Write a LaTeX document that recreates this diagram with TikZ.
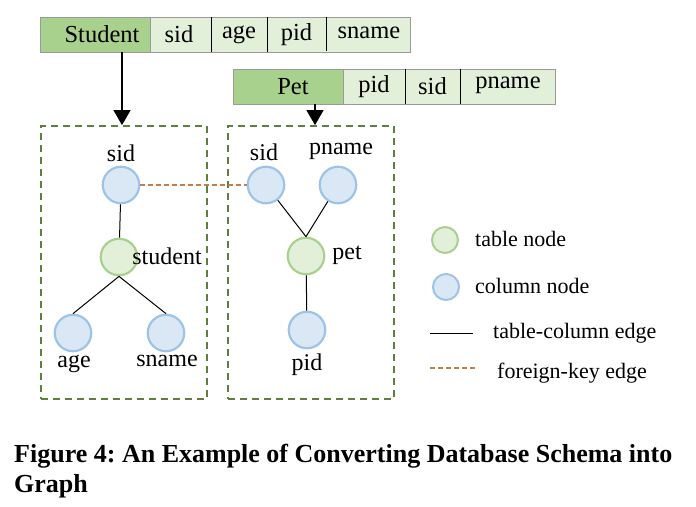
\documentclass[tikz,border=0pt]{standalone}
\usepackage{fontspec}
\setmainfont{Liberation Serif}
\usetikzlibrary{arrows.meta}
\definecolor{dkgreen}{HTML}{A9D18E}
\definecolor{ltgreen}{HTML}{E2EFD9}
\definecolor{cellborder}{HTML}{9A9A9A}
\definecolor{colfill}{HTML}{DAE8F5}
\definecolor{colborder}{HTML}{9DC3E6}
\definecolor{tabborder}{HTML}{A9D18E}
\definecolor{boxgreen}{HTML}{5E7F3E}
\definecolor{fkorange}{HTML}{C0804A}
\tikzset{
  hdr/.style={font=\fontsize{24.5}{28}\selectfont, inner sep=0pt},
  txt/.style={font=\fontsize{24}{28}\selectfont, inner sep=0pt},
  lgtxt/.style={font=\fontsize{22}{26}\selectfont, inner sep=0pt, anchor=west},
  cellA/.style={draw=cellborder, fill=dkgreen, line width=0.6pt},
  cellB/.style={draw=cellborder, fill=ltgreen, line width=0.6pt},
  sep/.style={draw=black, line width=1pt},
  colnode/.style={circle, draw=colborder, fill=colfill, line width=2.2pt, minimum size=36.5pt, inner sep=0pt},
  tabnode/.style={circle, draw=tabborder, fill=ltgreen, line width=2.2pt, minimum size=36.5pt, inner sep=0pt},
  lgcol/.style={circle, draw=colborder, fill=colfill, line width=2pt, minimum size=26pt, inner sep=0pt},
  lgtab/.style={circle, draw=tabborder, fill=ltgreen, line width=2pt, minimum size=26pt, inner sep=0pt},
  gbox/.style={draw=boxgreen, line width=1.8pt, dash pattern=on 7pt off 5pt},
  tcedge/.style={draw=black, line width=1pt},
  fkedge/.style={draw=fkorange, line width=1.1pt, dash pattern=on 5pt off 3pt},
  bigarrow/.style={draw=black, line width=1.2pt, -{Triangle[width=17pt,length=15pt]}},
  captxt/.style={anchor=base west, inner sep=0pt, font=\bfseries\fontsize{26}{30}\selectfont},
}
\begin{document}
\frenchspacing
\begin{tikzpicture}[x=1pt,y=-1pt]
\useasboundingbox (0,0) rectangle (696,506);
% Student table
\path[cellA] (40,17) rectangle (150,52);
\path[cellB] (150,17) rectangle (410,52);
\node[hdr] (stu) at (102,34.5) {Student};
\node[hdr] (s1) at (179,34.5) {sid};
\node[hdr] (s2) at (239,34.5) {age};
\node[hdr] (s3) at (296.5,34.5) {pid};
\node[hdr] (s4) at (369,33) {sname};
\draw[sep] (211,17) -- (211,52);
\draw[sep] (267,17) -- (267,52);
\draw[sep] (326,17) -- (326,51);
% Pet table
\path[cellA] (233,69) rectangle (343,104);
\path[cellB] (343,69) rectangle (555,104);
\node[hdr] (pet0) at (293,86.5) {Pet};
\node[hdr] (p1) at (374,86.5) {pid};
\node[hdr] (p2) at (432.5,86.5) {sid};
\node[hdr] (p3) at (508,85) {pname};
\draw[sep] (405,69) -- (405,104);
\draw[sep] (460,69) -- (460,104);
% dashed boxes
\node[gbox, minimum width=166pt, minimum height=273pt, inner sep=0pt] (lbox) at (124,262.5) {};
\node[gbox, minimum width=166pt, minimum height=273pt, inner sep=0pt] (rbox) at (311,262.5) {};
% arrows
\coordinate (a1s) at (122,52);
\coordinate (a2s) at (315,104);
\draw[bigarrow] (a1s) -- (a1s |- lbox.north);
\draw[bigarrow] (a2s) -- (a2s |- rbox.north);
% left graph
\node[colnode] (lsid) at (121,185) {};
\node[tabnode] (lstu) at (119,257) {};
\node[colnode] (lage) at (73,333) {};
\node[colnode] (lsname) at (166,333) {};
\node[txt] (lsidl) at (121,153) {sid};
\node[txt] (lstul) at (167,256) {student};
\node[txt] (lagel) at (74,364) {age};
\node[txt] (lsnamel) at (167,361) {sname};
\draw[tcedge] (lsid) -- (lstu);
\draw[tcedge] (lstu.south) -- (lage.north);
\draw[tcedge] (lstu.south) -- (lsname.north);
% right graph
\node[colnode] (rsid) at (266,185) {};
\node[colnode] (rpname) at (338,185) {};
\node[tabnode] (rpet) at (306,256) {};
\node[colnode] (rpid) at (307,330) {};
\node[txt] (rsidl) at (264,152) {sid};
\node[txt] (rpnamel) at (341,151) {pname};
\node[txt] (rpetl) at (347,255) {pet};
\node[txt] (rpidl) at (307,365) {pid};
\draw[tcedge] (rsid) -- (rpet.north);
\draw[tcedge] (rpname) -- (rpet.north);
\draw[tcedge] (rpet) -- (rpid);
% foreign key
\draw[fkedge] (lsid) -- (rsid);
% legend
\node[lgtab] (lg1) at (445,240) {};
\node[lgtxt] (lg1t) at (475,239) {table node};
\node[lgcol] (lg2) at (446,287) {};
\node[lgtxt] (lg2t) at (475,286) {column node};
\coordinate (lg3a) at (430,333);
\coordinate (lg3b) at (473,333);
\draw[tcedge] (lg3a) -- (lg3b);
\node[lgtxt] (lg3t) at (493,333) {table-column edge};
\coordinate (lg4a) at (430,368);
\coordinate (lg4b) at (476,368);
\draw[fkedge] (lg4a) -- (lg4b);
\node[lgtxt] (lg4t) at (497,373) {foreign-key edge};
% caption
\node[captxt] (cap1) at (14,462) {Figure 4: An Example of Converting Database Schema into};
\node[captxt] (cap2) at (14,492) {Graph};
\end{tikzpicture}
\end{document}
